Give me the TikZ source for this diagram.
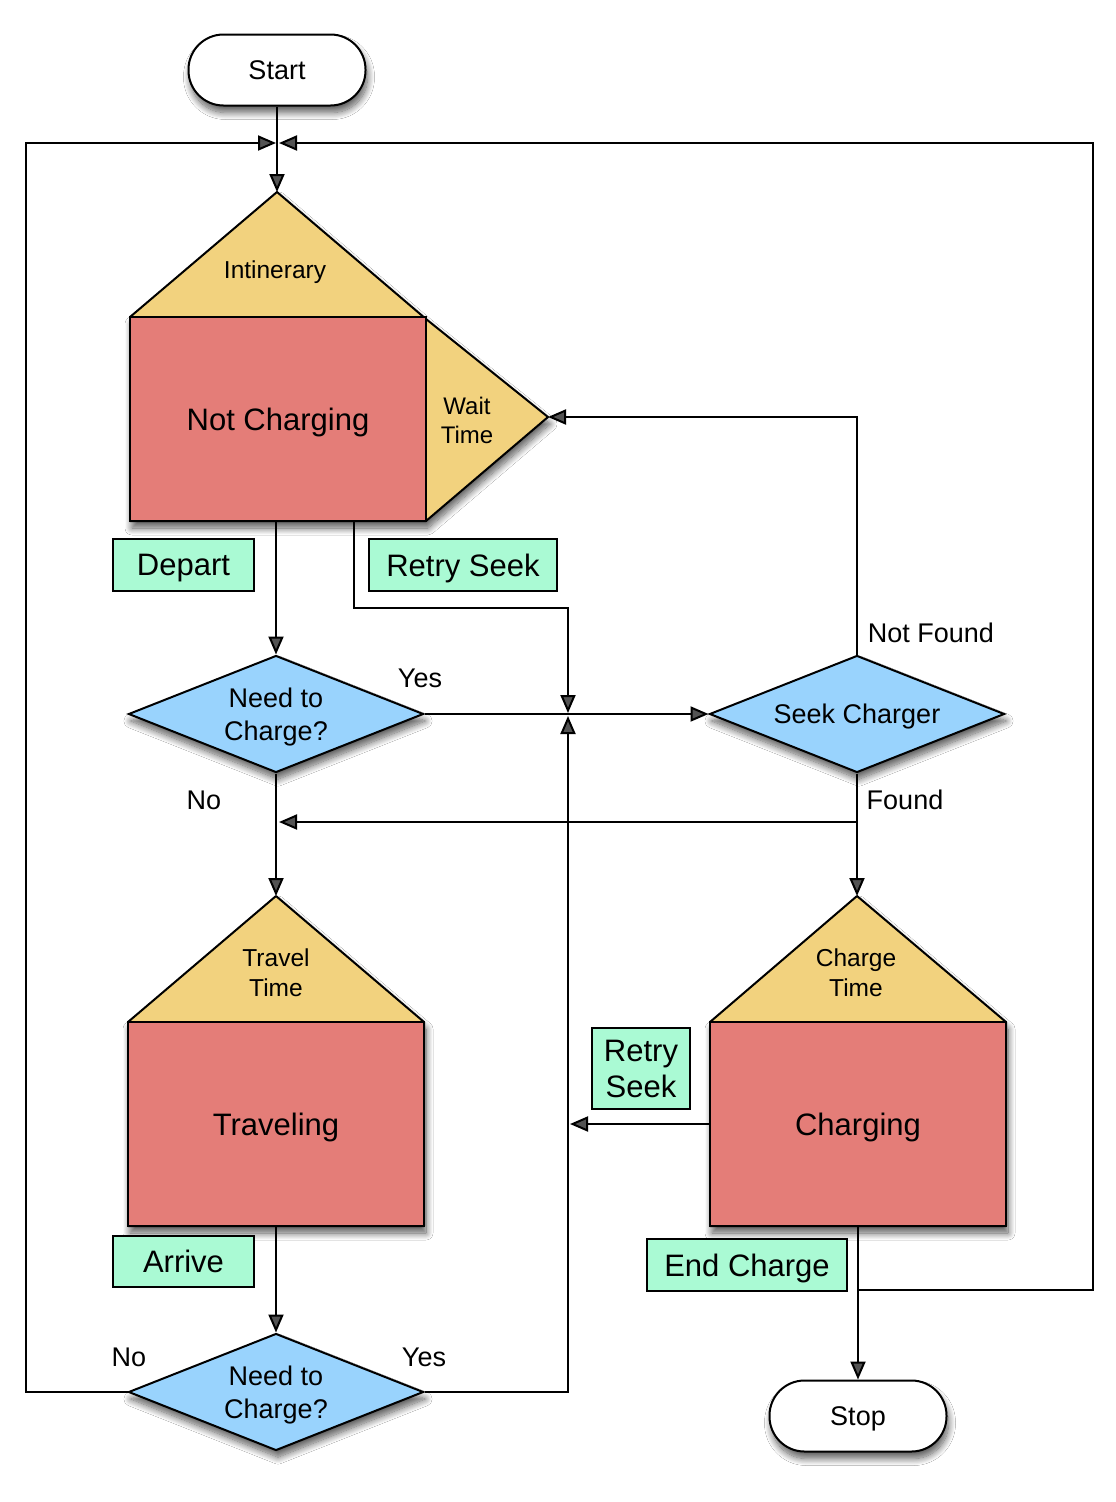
\documentclass[tikz,border=0pt]{standalone}
\usepackage{fontspec}
\setmainfont{Liberation Sans}
\usetikzlibrary{arrows.meta,shapes.geometric,shadows.blur}
\definecolor{boxred}{RGB}{228,125,120}
\definecolor{boxyel}{RGB}{242,210,126}
\definecolor{diablue}{RGB}{153,211,253}
\definecolor{mint}{RGB}{170,250,212}
\newcommand{\fsz}[2]{\fontsize{#1pt}{#2pt}\selectfont}
\begin{document}
\begin{tikzpicture}[x=1pt,y=-1pt,
  every node/.style={text depth=0pt},
  shad/.style={blur shadow={shadow xshift=2pt,shadow yshift=-7pt,shadow opacity=65,shadow blur radius=7pt,shadow blur steps=12}},
  term/.style={draw,line width=2pt,fill=white,rounded corners=35pt,minimum width=177pt,minimum height=71pt,inner sep=0pt,font=\fsz{27}{31},shad},
  state/.style={draw,line width=2pt,fill=boxred,minimum width=296pt,minimum height=204pt,inner sep=0pt,font=\fsz{31}{36}},
  house/.style={draw,line width=2pt,fill=boxyel,line join=round,shad},
  dec/.style={diamond,aspect=2.5,draw,line width=2pt,fill=diablue,minimum width=295pt,minimum height=117pt,inner sep=0pt,align=center,font=\fsz{27}{33},shad},
  evt/.style={draw,line width=1.6pt,fill=mint,inner sep=0pt,font=\fsz{31}{36}},
  lbl/.style={inner sep=0pt,font=\fsz{27}{31}},
  sub/.style={inner sep=0pt,align=center,font=\fsz{24.5}{30}},
  arr/.style={line width=2pt,-{Triangle[length=18pt,width=15pt]}},
  ln/.style={line width=2pt}]
\useasboundingbox (0,0) rectangle (1116,1502);
\fill[white] (0,0) rectangle (1116,1502);

% terminals
\node[term] (start) at (277,70) {Start};
\node[term] (stop) at (858,1416) {Stop};

% Not Charging group
\path[house] (277,192) -- (426,319) -- (548,417) -- (426,521) -- (130,521) -- (130,317) -- cycle;
\node[state] (nc) at (278,419) {Not Charging};
\node[sub] (itin) at (275,270) {Intinerary};
\node[sub,font=\fsz{24}{29}] (wt) at (467,420) {Wait\\Time};
\coordinate (nctop) at (277,192);
\coordinate (wtip) at (548,417);

% Traveling group
\path[house] (276,896) -- (424,1022) -- (424,1226) -- (128,1226) -- (128,1022) -- cycle;
\node[state] (tr) at (276,1124) {Traveling};
\node[sub] (tt) at (276,973) {Travel\\Time};
\coordinate (ttop) at (276,896);

% Charging group
\path[house] (857,896) -- (1006,1022) -- (1006,1226) -- (710,1226) -- (710,1022) -- cycle;
\node[state] (ch) at (858,1124) {Charging};
\node[sub] (ct) at (856,973) {Charge\\Time};
\coordinate (ctop) at (857,896);

% decisions
\node[dec] (nd1) at (276,714) {Need to\\Charge?};
\node[dec] (sc) at (857,714) {Seek Charger};
\node[dec] (nd2) at (276,1392) {Need to\\Charge?};

% events
\node[evt,minimum width=141pt,minimum height=52pt] (dep) at (183.5,565) {Depart};
\node[evt,minimum width=188pt,minimum height=52pt] (rs1) at (463,565) {Retry Seek};
\node[evt,minimum width=98pt,minimum height=81pt,align=center] (rs2) at (641,1068.5) {Retry\\Seek};
\node[evt,minimum width=141pt,minimum height=51pt] (arv) at (183.5,1261.5) {Arrive};
\node[evt,minimum width=200pt,minimum height=52pt] (ec) at (747,1265) {End Charge};

% labels
\node[lbl] (yes1) at (420,678) {Yes};
\node[lbl] (no1) at (204,800) {No};
\node[lbl] (nf) at (931,633) {Not Found};
\node[lbl] (fd) at (905,800) {Found};
\node[lbl] (no2) at (129,1357) {No};
\node[lbl] (yes2) at (424,1357) {Yes};

% junctions
\coordinate (j1) at (277,143);
\coordinate (j2) at (568,714);
\coordinate (j3) at (858,1290);
\coordinate (j4) at (857,822);
\coordinate (j6) at (570,1124);

% connectors
\draw[arr] (start.south) -- (nctop);
\draw[arr] (nd2.west) -- (26,1392) |- ([xshift=-1pt]j1);
\draw[arr] (ch.south) -- (stop.north);
\draw[arr] (j3) -- (1093,1290) |- ([xshift=2pt]j1);
\draw[arr] (nd1.north |- nc.south) -- (nd1.north);
\draw[arr] ([xshift=76pt]nc.south) -- ++(0,86) -| ([yshift=1pt]j2);
\draw[arr] (nd2.east) -| ([yshift=-2pt]j2);
\draw[arr] (nd1.east) -- (sc.west);
\draw[arr] (sc.north) |- (wtip);
\draw[arr] (sc.south) -- (ctop);
\draw[arr] (j4) -- ([xshift=3pt]nd1.south |- j4);
\draw[arr] (nd1.south) -- (ttop);
\draw[arr] (tr.south) -- (nd2.north);
\draw[arr] (ch.west) -- (j6);
\end{tikzpicture}
\end{document}
